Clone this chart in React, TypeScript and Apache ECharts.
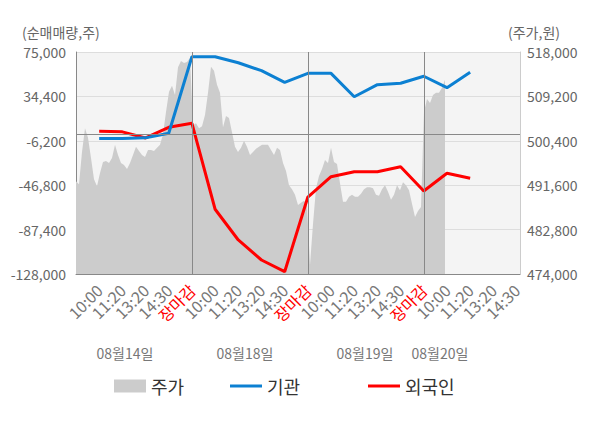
import React, { useEffect, useRef } from "react";
import * as echarts from "echarts";

// x-axis tick labels (index 0 is the unlabeled left edge)
const TIME_LABELS = [
  "", "10:00", "11:20", "13:20", "14:30", "장마감",
  "10:00", "11:20", "13:20", "14:30", "장마감",
  "10:00", "11:20", "13:20", "14:30", "장마감",
  "10:00", "11:20", "13:20", "14:30",
];
const DATES = ["08월14일", "08월18일", "08월19일", "08월20일"];
const DIVIDERS = [5, 10, 15];
const CURRENT_INDEX = 16;

// 기관 net buying (shares), indices 1..17
const INST = [
  null, -4000, -4000, -3500, 700, 70700,
  70700, 65200, 57900, 47300, 55500,
  55500, 34100, 45100, 46400, 52800,
  42400, 56400,
];
// 외국인 net buying (shares)
const FOREIGN = [
  null, 2500, 2000, -3600, 6100, 9800,
  -68800, -96900, -115200, -125900, -57600,
  -39000, -34500, -34500, -29900, -52100,
  -35900, -40500,
];

// 주가 (won), intraday samples
const PRICE = [
  492400, 491800, 498200, 502900, 501000, 497000, 492800, 491400, 494000, 496200,
  496400, 496000, 497000, 499600, 497600, 496000, 495600, 494800, 496000, 497600,
  499200, 498400, 497600, 497200, 498600, 498600, 498400, 499000, 499600, 501700,
  506100, 510100, 511300, 509500, 515000, 516200, 515800, 516000, 516800, 503500,
  503900, 502900, 503300, 505500, 509900, 515100, 514300, 511500, 509900, 503100,
  505300, 504900, 502100, 499200, 498200, 499000, 500400, 499200, 497600, 498200,
  498800, 499200, 499600, 499600, 499600, 498600, 497600, 499000, 498600, 496000,
  494400, 491600, 490800, 489700, 487700, 488100, 488500, 487700, 475800, 483900,
  491000, 493400, 494800, 496600, 496000, 499000, 496200, 495800, 492000, 488300,
  488300, 489300, 489700, 489300, 489300, 489900, 490800, 491200, 491200, 491000,
  489700, 489500, 490800, 491600, 490300, 488700, 489700, 491600, 490600, 492200,
  491600, 490600, 487900, 485300, 486500, 487300, 506100, 508700, 507900, 509500,
  509900, 509900, 510900, 512500,
];
const PRICE_SLOTS = 149;

const LEFT_MIN = -128000;
const LEFT_MAX = 75000;
const LEFT_STEP = 40600;
const RIGHT_MIN = 474000;
const RIGHT_MAX = 518000;
const RIGHT_STEP = 8800;
const X_MAX = 19.15;

const FONT = "'Noto Sans CJK KR', 'Noto Sans', sans-serif";

function fmt(n: number): string {
  const r = Math.round(n);
  const s = String(Math.abs(r)).replace(/\B(?=(\d{3})+(?!\d))/g, ",");
  return (r < 0 ? "-" : "") + s;
}

export default function App() {
  const ref = useRef<HTMLDivElement>(null);

  useEffect(() => {
    if (!ref.current) return;
    const chart = echarts.init(ref.current, undefined, { renderer: "svg" });

    const shiftL = (v: number) => v - LEFT_MIN;
    const shiftR = (v: number) => v - RIGHT_MIN;

    const instData = INST.map((v, i) => (v === null ? null : [i, shiftL(v)])).filter(Boolean);
    const forData = FOREIGN.map((v, i) => (v === null ? null : [i, shiftL(v)])).filter(Boolean);
    const priceData = PRICE.map((v) => shiftR(v));
    const slots = Array.from({ length: PRICE_SLOTS }, (_, i) => String(i));

    const dayCenters = [125, 245, 365, 440];

    chart.setOption({
      animation: false,
      textStyle: { fontFamily: FONT },
      grid: {
        left: 76,
        right: 80,
        top: 52,
        bottom: 154,
        show: true,
        backgroundColor: "#f4f4f4",
        borderWidth: 0,
      },
      xAxis: [
        {
          type: "value",
          min: 0,
          max: X_MAX,
          interval: 1,
          position: "bottom",
          axisLine: { show: true, onZero: false, lineStyle: { color: "#888", width: 1 } },
          axisTick: { show: false },
          splitLine: { show: false },
          axisLabel: {
            rotate: 45,
            margin: 13,
            fontSize: 16,
            fontFamily: FONT,
            showMaxLabel: false,
            formatter: (v: number) => TIME_LABELS[v] ?? "",
            color: (v: number) => {
              const s = TIME_LABELS[v as number];
              if (s === "장마감") return "#ff0000";
              if (v === CURRENT_INDEX) return "#333333";
              return "#777777";
            },
          },
        },
        {
          type: "category",
          data: slots,
          boundaryGap: false,
          show: false,
        },
      ],
      yAxis: [
        {
          type: "value",
          position: "left",
          min: 0,
          max: LEFT_MAX - LEFT_MIN,
          interval: LEFT_STEP,
          axisLine: { show: true, lineStyle: { color: "#888", width: 1 } },
          axisTick: { show: false },
          splitLine: { show: true, lineStyle: { color: "#dddddd", width: 1 } },
          axisLabel: {
            margin: 10,
            fontSize: 14,
            lineHeight: 14,
            color: "#666666",
            fontFamily: FONT,
            formatter: (v: number) => fmt(v + LEFT_MIN),
          },
        },
        {
          type: "value",
          position: "right",
          min: 0,
          max: RIGHT_MAX - RIGHT_MIN,
          interval: RIGHT_STEP,
          axisLine: { show: true, lineStyle: { color: "#cccccc", width: 1 } },
          axisTick: { show: false },
          splitLine: { show: false },
          axisLabel: {
            margin: 7,
            fontSize: 14,
            lineHeight: 14,
            color: "#666666",
            fontFamily: FONT,
            formatter: (v: number) => fmt(v + RIGHT_MIN),
          },
        },
      ],
      legend: [
        {
          data: ["주가"],
          left: 114,
          top: 377,
          padding: 0,
          icon: "rect",
          itemWidth: 32,
          itemHeight: 13,
          textStyle: { fontSize: 18, color: "#333333", fontFamily: FONT },
        },
        {
          data: ["기관"],
          left: 230,
          top: 377,
          padding: 0,
          icon: "rect",
          itemWidth: 32,
          itemHeight: 3,
          textStyle: { fontSize: 18, color: "#333333", fontFamily: FONT },
        },
        {
          data: ["외국인"],
          left: 368,
          top: 377,
          padding: 0,
          icon: "rect",
          itemWidth: 32,
          itemHeight: 3,
          textStyle: { fontSize: 18, color: "#333333", fontFamily: FONT },
        },
      ],
      graphic: [
        {
          type: "text",
          x: 22,
          y: 32,
          style: {
            text: "(순매매량,주)",
            fontSize: 14,
            lineHeight: 14,
            fill: "#666666",
            fontFamily: FONT,
            align: "left",
            verticalAlign: "middle",
          },
        },
        {
          type: "text",
          x: 508,
          y: 32,
          style: {
            text: "(주가,원)",
            fontSize: 14,
            lineHeight: 14,
            fill: "#666666",
            fontFamily: FONT,
            align: "left",
            verticalAlign: "middle",
          },
        },
        ...DATES.map((d, i) => ({
          type: "text",
          x: dayCenters[i],
          y: 353,
          style: {
            text: d,
            fontSize: 14,
            fill: "#777777",
            fontFamily: FONT,
            align: "center",
            verticalAlign: "middle",
          },
        })),
      ],
      series: [
        {
          name: "주가",
          type: "line",
          xAxisIndex: 1,
          yAxisIndex: 1,
          data: priceData,
          symbol: "none",
          showSymbol: false,
          lineStyle: { width: 0, color: "#cccccc" },
          itemStyle: { color: "#cccccc" },
          areaStyle: { color: "#cccccc", opacity: 1, origin: "start" },
          z: 1,
        },
        {
          name: "외국인",
          type: "line",
          xAxisIndex: 0,
          yAxisIndex: 0,
          data: forData,
          symbol: "none",
          showSymbol: false,
          lineStyle: { width: 3, color: "#ff0000" },
          itemStyle: { color: "#ff0000" },
          z: 3,
          markLine: {
            silent: true,
            symbol: ["none", "none"],
            label: { show: false },
            lineStyle: { color: "#888888", width: 1, type: "solid" },
            data: [
              ...DIVIDERS.map((d) => ({ xAxis: d })),
              { yAxis: shiftL(0) },
            ],
          },
        },
        {
          name: "기관",
          type: "line",
          xAxisIndex: 0,
          yAxisIndex: 0,
          data: instData,
          symbol: "none",
          showSymbol: false,
          lineStyle: { width: 3, color: "#0c80d2" },
          itemStyle: { color: "#0c80d2" },
          z: 4,
        },
      ],
    });

    return () => chart.dispose();
  }, []);

  return (
    <div
      ref={ref}
      style={{ position: "fixed", left: 0, top: 0, width: 600, height: 428, background: "#ffffff" }}
    />
  );
}
